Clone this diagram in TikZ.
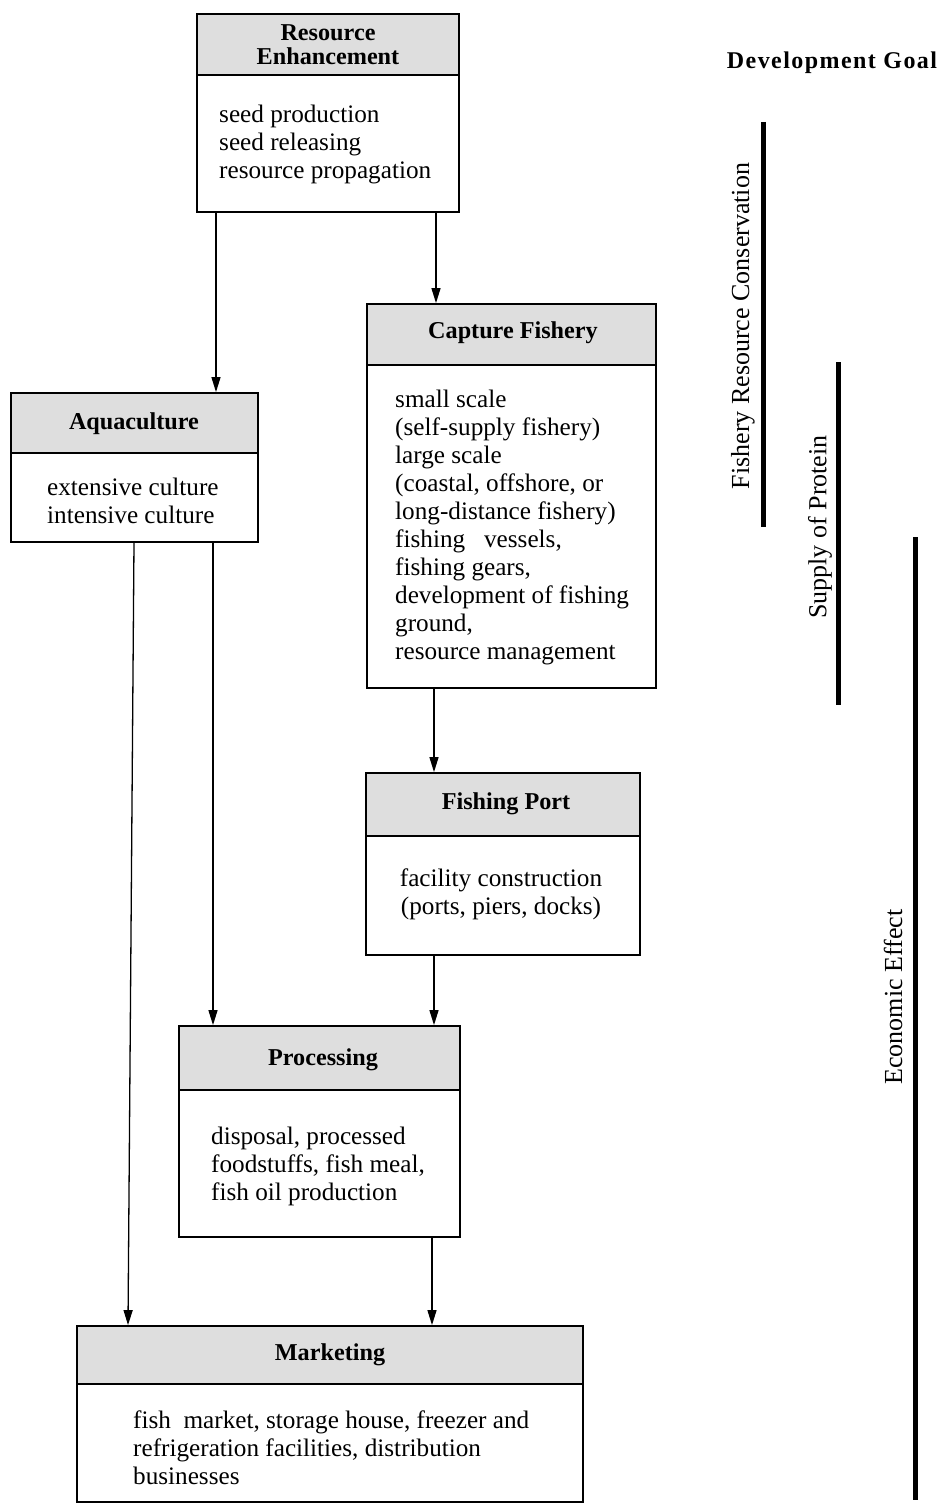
\documentclass[tikz,border=0pt]{standalone}
\usepackage{fontspec}
\setmainfont{Liberation Serif}
\usetikzlibrary{arrows.meta}
\begin{document}
\begin{tikzpicture}[x=1pt,y=-1pt,
 box/.style={draw, line width=1.8pt, inner sep=0pt},
 hdr/.style={fill=black!13},
 divider/.style={line width=1.5pt},
 ttl/.style={font=\fontsize{24.2}{24}\selectfont\bfseries, align=center, inner sep=0pt},
 body/.style={font=\fontsize{25.2}{28}\selectfont, align=left, inner sep=0pt},
 arr/.style={line width=1.3pt, -{Triangle[length=15pt,width=9pt]}},
 bar/.style={line width=5pt},
 goal/.style={font=\fontsize{26}{26}\selectfont, rotate=90, inner sep=0pt}]
\useasboundingbox (0,0) rectangle (940,1509);
\fill[white] (0,0) rectangle (940,1509);
% header fills
\fill[hdr] (197,14) rectangle (459,75);
\fill[hdr] (11,393) rectangle (258,453);
\fill[hdr] (367,304) rectangle (656,365);
\fill[hdr] (366,773) rectangle (640,836);
\fill[hdr] (179,1026) rectangle (460,1090);
\fill[hdr] (77,1326) rectangle (583,1384);
% dividers
\draw[divider] (197,75) -- (459,75);
\draw[divider] (11,453) -- (258,453);
\draw[divider] (367,365) -- (656,365);
\draw[divider] (366,836) -- (640,836);
\draw[divider] (179,1090) -- (460,1090);
\draw[divider] (77,1384) -- (583,1384);
% boxes
\node[box, minimum width=262pt, minimum height=198pt] (re) at (328,113) {};
\node[box, minimum width=247pt, minimum height=149pt] (aq) at (134.5,467.5) {};
\node[box, minimum width=289pt, minimum height=384pt] (cf) at (511.5,496) {};
\node[box, minimum width=274pt, minimum height=182pt] (fp) at (503,864) {};
\node[box, minimum width=281pt, minimum height=211pt] (pr) at (319.5,1131.5) {};
\node[box, minimum width=506pt, minimum height=176pt] (mk) at (330,1414) {};
% titles
\node[ttl] (ret) at (328,45) {Resource\\Enhancement};
\node[ttl] (aqt) at (134,424) {Aquaculture};
\node[ttl] (cft) at (513,333) {Capture Fishery};
\node[ttl] (fpt) at (506,804) {Fishing Port};
\node[ttl] (prt) at (323,1060) {Processing};
\node[ttl] (mkt) at (330,1355) {Marketing};
% bodies
\node[body, anchor=west] (reb) at (219,144) {seed production\\seed releasing\\resource propagation};
\node[body, anchor=west] (aqb) at (47,501) {extensive culture\\intensive culture};
\node[body, anchor=west] (cfb) at (395,527) {small scale\\(self-supply fishery)\\large scale\\(coastal, offshore, or\\long-distance fishery)\\fishing\ \ \ vessels,\\fishing gears,\\development of fishing\\ground,\\resource management};
\node[body, align=center] (fpb) at (501,894) {facility construction\\(ports, piers, docks)};
\node[body, anchor=west] (prb) at (211,1166) {disposal, processed\\foodstuffs, fish meal,\\fish oil production};
\node[body, anchor=west] (mkb) at (133,1448) {fish\ \ market, storage house, freezer and\\refrigeration facilities, distribution\\businesses};
% connector columns
\coordinate (c216) at (216,0);
\coordinate (c436) at (436,0);
\coordinate (c434) at (434,0);
\coordinate (c213) at (213,0);
\coordinate (c134) at (134,0);
\coordinate (c128) at (128,0);
\coordinate (c432) at (432,0);
\draw[arr] (re.south -| c216) -- (aq.north -| c216);
\draw[arr] (re.south -| c436) -- (cf.north -| c436);
\draw[arr] (cf.south -| c434) -- (fp.north -| c434);
\draw[arr] (aq.south -| c213) -- (pr.north -| c213);
\draw[arr] (aq.south -| c134) -- (mk.north -| c128);
\draw[arr] (fp.south -| c434) -- (pr.north -| c434);
\draw[arr] (pr.south -| c432) -- (mk.north -| c432);
% development goals
\node[inner sep=0pt, font=\fontsize{24}{24}\selectfont\bfseries\addfontfeatures{LetterSpace=6}] (dg) at (832,63) {Development Goal};
\draw[bar] (763,122) -- (763,527);
\node[goal] (g1) at (743,326) {Fishery Resource Conservation};
\draw[bar] (838,362) -- (838,705);
\node[goal] (g2) at (820,527) {Supply of Protein};
\draw[bar] (915,537) -- (915,1500);
\node[goal] (g3) at (893,997) {Economic Effect};
\end{tikzpicture}
\end{document}
